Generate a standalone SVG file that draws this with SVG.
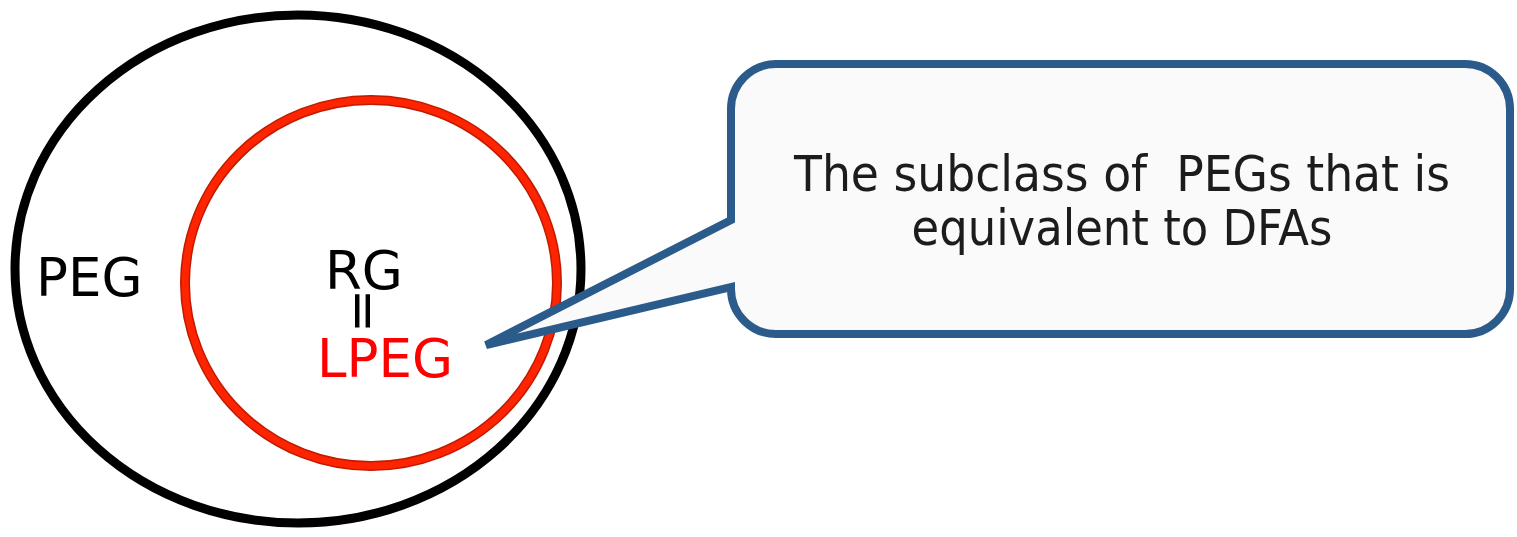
<svg xmlns="http://www.w3.org/2000/svg" width="1517" height="537" viewBox="0 0 1517 537">
<style>
.lbl{font-family:"DejaVu Sans","Liberation Sans",sans-serif;font-size:53px;fill:#000}
.red{fill:#ff0000}
.call{font-family:"DejaVu Sans Condensed","DejaVu Sans",sans-serif;font-size:49px;fill:#1c1c1c;white-space:pre}
</style>
<rect width="1517" height="537" fill="#ffffff"/>
<g id="peg">
<ellipse cx="298" cy="269" rx="283" ry="254" fill="none" stroke="#000" stroke-width="9"/>
<text class="lbl" x="36" y="296">PEG</text>
</g>
<g id="lpeg">
<ellipse cx="371" cy="283" rx="186" ry="183" fill="none" stroke="#c01a00" stroke-width="10"/>
<ellipse cx="371" cy="283" rx="186" ry="183" fill="none" stroke="#ff2400" stroke-width="7"/>
<text class="lbl" x="325" y="289">RG</text>
<text class="lbl" text-anchor="middle" x="0" y="17" transform="translate(363,311) rotate(90)">=</text>
<text class="lbl red" x="317" y="377">LPEG</text>
</g>
<g id="callout">
<path d="M776 64 H1465 A45 45 0 0 1 1510 109 V289 A45 45 0 0 1 1465 334 H776 A45 45 0 0 1 731 289 V287 L486 345 L731 220 V109 A45 45 0 0 1 776 64 Z" fill="#fafafa" stroke="#2b5b8b" stroke-width="8" stroke-linejoin="miter" stroke-miterlimit="4"/>
<text class="call" x="1122" y="191" text-anchor="middle" textLength="656" lengthAdjust="spacingAndGlyphs">The subclass of  PEGs that is</text>
<text class="call" x="1122" y="245" text-anchor="middle" textLength="421" lengthAdjust="spacingAndGlyphs">equivalent to DFAs</text>
</g>
</svg>
